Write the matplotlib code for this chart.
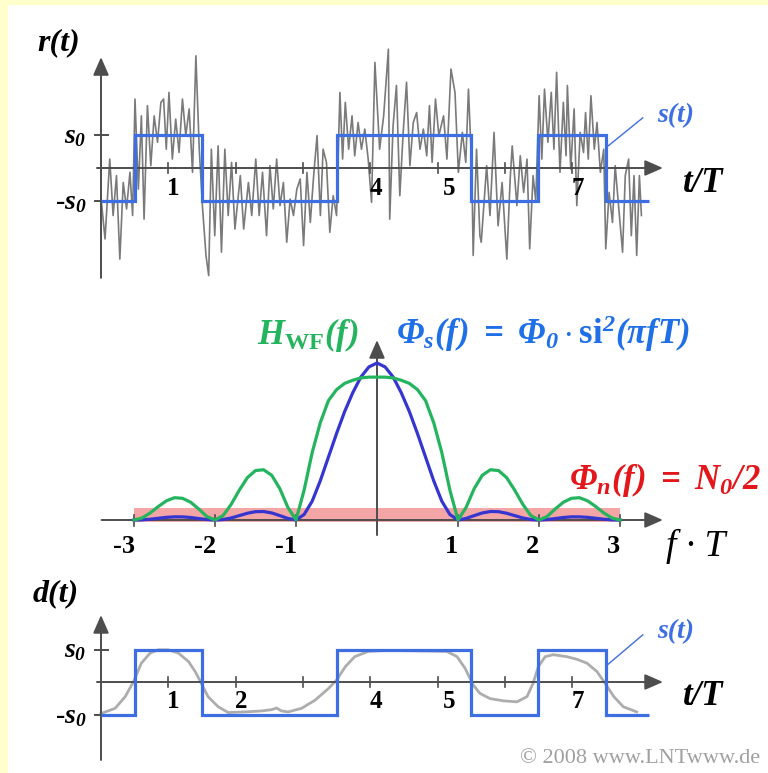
import numpy as np
import matplotlib
matplotlib.use("Agg")
from matplotlib import pyplot as plt
from matplotlib.patches import Rectangle

plt.rcParams["mathtext.fontset"] = "custom"
plt.rcParams["mathtext.it"] = "Liberation Serif:italic:bold"
plt.rcParams["mathtext.rm"] = "Liberation Serif:italic:bold"
plt.rcParams["mathtext.bf"] = "Liberation Serif:bold"
SERIF = "Liberation Serif"

# --- data ----------------------------------------------------------------
# transmitted rectangle signal s(t), levels in units of s0
s_edges = [0.0, 0.5, 1.5, 3.5, 5.5, 6.5, 7.5, 8.15]
s_levels = [-1, 1, -1, 1, -1, 1, -1]

# noisy received signal r(t)
r_t = [0.00, 0.06, 0.13, 0.18, 0.23, 0.28, 0.33, 0.38, 0.43, 0.47, 0.505, 0.555,
       0.60, 0.64, 0.69, 0.74, 0.79, 0.84, 0.89, 0.93, 0.97, 1.01, 1.06, 1.11,
       1.16, 1.21, 1.26, 1.31, 1.36, 1.41, 1.46, 1.51, 1.56, 1.60, 1.64, 1.69,
       1.74, 1.79, 1.84, 1.89, 1.94, 1.99, 2.07, 2.12, 2.19, 2.24, 2.30, 2.35,
       2.40, 2.46, 2.51, 2.56, 2.61, 2.66, 2.71, 2.76, 2.81, 2.86, 2.91, 2.96,
       3.01, 3.06, 3.11, 3.16, 3.21, 3.26, 3.30, 3.35, 3.40, 3.45, 3.50, 3.55,
       3.59, 3.63, 3.68, 3.73, 3.77, 3.82, 3.87, 3.92, 3.97, 4.02, 4.07, 4.14,
       4.20, 4.27, 4.29, 4.34, 4.39, 4.44, 4.49, 4.54, 4.59, 4.64, 4.69, 4.74,
       4.79, 4.84, 4.88, 4.92, 4.97, 5.02, 5.09, 5.14, 5.20, 5.26, 5.31, 5.37,
       5.42, 5.46, 5.51, 5.53, 5.58, 5.63, 5.65, 5.73, 5.78, 5.84, 5.90, 5.96,
       6.03, 6.08, 6.11, 6.18, 6.23, 6.28, 6.33, 6.37, 6.42, 6.46, 6.51, 6.55,
       6.59, 6.64, 6.69, 6.73, 6.77, 6.82, 6.87, 6.91, 6.93, 6.98, 7.03, 7.07,
       7.12, 7.17, 7.20, 7.24, 7.28, 7.33, 7.37, 7.42, 7.47, 7.50, 7.55, 7.60,
       7.64, 7.69, 7.75, 7.79, 7.84, 7.88, 7.92, 7.96, 8.00, 8.03]
r_vals = [-0.90, -2.15, 0.27, -1.44, -0.23, -2.76, -0.44, -1.24, -0.13, -1.44, 2.09, -0.64,
          1.58, -1.55, 1.89, 0.07, 1.58, 0.78, 1.99, 2.09, 0.57, 2.29, 0.27, 1.48,
          0.47, 2.09, 0.98, 1.79, -0.13, 3.40, 0.57, -1.24, -2.65, -3.26, 0.57, -2.05,
          0.67, -2.55, 0.57, -1.44, 0.17, -1.85, -0.23, -1.85, -0.44, -1.44, 0.27, -1.44,
          -0.13, -2.05, 0.07, -1.24, 0.27, -1.14, -0.44, -2.25, -0.94, -1.44, -0.64, -0.33,
          -2.35, -0.13, -1.65, -0.23, 0.98, -1.44, 0.57, 0.17, -1.95, -0.84, -1.44, 2.29,
          0.27, 1.99, 0.57, 1.58, 0.37, 1.38, 0.57, 1.18, 0.27, -1.04, 3.20, 0.57,
          1.58, 3.60, -1.55, 1.28, 2.50, -0.84, 1.08, 2.60, 0.07, 1.38, 1.68, 0.57,
          1.18, 0.37, 1.89, 0.17, 2.09, 0.98, 1.58, 0.27, 3.00, 2.29, -0.13, 1.08,
          0.17, 2.39, -0.03, -2.65, 0.57, -2.05, -2.25, 0.07, -1.44, 1.08, -1.75, -0.44,
          -2.76, -0.33, 0.67, -1.14, 0.37, -0.74, 0.27, -2.45, -0.23, -1.00, 2.19, 0.27,
          2.39, 0.78, 2.29, 0.57, 2.90, -0.13, 1.99, 0.37, 2.50, -0.03, 1.79, -1.14,
          1.08, 0.47, 1.68, 0.27, 2.19, 0.57, 1.38, -0.13, 0.57, -2.45, -0.74, -1.65,
          0.07, -1.14, -2.55, -0.23, 0.27, -2.05, -0.23, -2.65, -0.23, -1.44]

# spectra, f*T from -3 to 3 in steps of 0.1, normalised to the peak of Phi_s
f_grid = np.linspace(-3, 3, 61)
phi_s = [0.0, 0.001, 0.005, 0.011, 0.017, 0.020, 0.020, 0.016, 0.009, 0.003,
         0.0, 0.003, 0.013, 0.028, 0.043, 0.053, 0.054, 0.045, 0.028, 0.010,
         0.0, 0.035, 0.12, 0.25, 0.40, 0.55, 0.69, 0.81, 0.91, 0.975,
         1.0,
         0.975, 0.91, 0.81, 0.69, 0.55, 0.40, 0.25, 0.12, 0.035, 0.0,
         0.010, 0.028, 0.045, 0.054, 0.053, 0.043, 0.028, 0.013, 0.003, 0.0,
         0.003, 0.009, 0.016, 0.020, 0.020, 0.017, 0.011, 0.005, 0.001, 0.0]
h_wf = [0.0, 0.013, 0.045, 0.086, 0.122, 0.142, 0.138, 0.113, 0.07, 0.022,
        0.0, 0.028, 0.10, 0.19, 0.27, 0.315, 0.32, 0.285, 0.20, 0.08,
        0.0, 0.19, 0.43, 0.62, 0.76, 0.83, 0.87, 0.89, 0.905, 0.91,
        0.91,
        0.91, 0.905, 0.89, 0.87, 0.83, 0.76, 0.62, 0.43, 0.19, 0.0,
        0.08, 0.20, 0.285, 0.32, 0.315, 0.27, 0.19, 0.10, 0.028, 0.0,
        0.022, 0.07, 0.113, 0.138, 0.142, 0.122, 0.086, 0.045, 0.013, 0.0]
noise_f = [-3.0, 3.0]
noise_level = 0.075

# detected signal d(t) after the Wiener filter
d_t = [0.00, 0.21, 0.36, 0.48, 0.60, 0.73, 0.85, 1.00, 1.15, 1.30, 1.40, 1.49,
       1.59, 1.74, 1.89, 2.14, 2.39, 2.54, 2.61, 2.68, 2.78, 2.98, 3.18, 3.38,
       3.50, 3.63, 3.77, 3.97, 4.22, 4.64, 5.14, 5.29, 5.41, 5.53, 5.63, 5.78,
       5.98, 6.18, 6.33, 6.42, 6.50, 6.60, 6.72, 6.92, 7.07, 7.22, 7.37, 7.49,
       7.62, 7.76, 7.96]
d_vals = [-0.97, -0.81, -0.45, 0.00, 0.58, 0.89, 0.99, 0.99, 0.89, 0.63, 0.32, -0.04,
          -0.45, -0.76, -0.94, -0.92, -0.89, -0.85, -0.80, -0.89, -0.92, -0.81, -0.56, -0.20,
          0.06, 0.47, 0.78, 0.94, 0.97, 0.96, 0.94, 0.78, 0.42, -0.09, -0.35, -0.51,
          -0.58, -0.61, -0.45, -0.04, 0.48, 0.78, 0.84, 0.78, 0.70, 0.58, 0.32, -0.04,
          -0.45, -0.76, -0.92]

t_ticks = [1, 2, 3, 4, 5, 6, 7]
r_tick_labels = {1: "1", 4: "4", 5: "5", 7: "7"}
d_tick_labels = {1: "1", 2: "2", 4: "4", 5: "5", 7: "7"}
f_ticks = [-3, -2, -1, 1, 2, 3]

# --- styling --------------------------------------------------------------
W, H = 768, 773
AXIS = "#4d4d4d"
SQ_BLUE = "#3d6fe3"
CURVE_BLUE = "#3535d0"
LABEL_BLUE = "#1f6fe6"
GREEN = "#25b45e"
RED = "#e3161b"
SALMON = "#f4a6a6"
NOISE = "#7a7a7a"
D_GREY = "#adadad"

fig = plt.figure(figsize=(W / 100, H / 100), dpi=100, facecolor="#ffffcc")
fig.patches.append(Rectangle((8 / W, 0), 1 - 8 / W, 1 - 5 / H, transform=fig.transFigure,
                             facecolor="white", edgecolor="none", zorder=-10))


def panel(top, bottom, x0, sx, y0, sy):
    """Axes spanning pixel rows top..bottom, data origin at pixel (x0, y0)."""
    ax = fig.add_axes([0, 1 - bottom / H, 1, (bottom - top) / H])
    ax.set_xlim(-x0 / sx, (W - x0) / sx)
    ax.set_ylim((y0 - bottom) / sy, (y0 - top) / sy)
    ax.set_axis_off()
    return ax


def arrow_axes(ax, x_from, x_to, y_from, y_to):
    style = dict(arrowstyle="-|>,head_length=0.55,head_width=0.24", color=AXIS, lw=1.4,
                 shrinkA=0, shrinkB=0, mutation_scale=20)
    ax.annotate("", xy=(x_to, 0), xytext=(x_from, 0), arrowprops=style, zorder=3)
    ax.annotate("", xy=(0, y_to), xytext=(0, y_from), arrowprops=style, zorder=3)


def time_panel(ax, ylab, ylab_pos, tick_labels, lab_y, y_from, y_to, st_pos, st_line):
    arrow_axes(ax, -0.06, 8.35, y_from, y_to)
    for t in t_ticks:
        ax.plot([t, t], [-0.15, 0.15], color=AXIS, lw=1.2, zorder=3)
    for v in (1, -1):
        ax.plot([-0.09, 0.1], [v, v], color=AXIS, lw=1.4, zorder=3)
    ax.stairs(s_levels, s_edges, baseline=None, color=SQ_BLUE, lw=2.3, zorder=5)
    for t, lab in tick_labels.items():
        dx = 0.17 if t == 5 else 0.08
        ax.text(t + dx, lab_y, lab, fontsize=18, fontweight="bold", family=SERIF,
                ha="center", va="center")
    ax.text(*ylab_pos, ylab, fontsize=23, fontweight="bold", style="italic",
            family=SERIF, ha="center", va="center")
    ax.text(-0.22, 1.0, "$s_0$", fontsize=20, ha="right", va="center")
    ax.text(-0.22, -1.05, "-$s_0$", fontsize=20, fontweight="bold", family=SERIF,
            ha="right", va="center")
    ax.text(8.95, lab_y + 0.15, "t/T", fontsize=25, fontweight="bold", style="italic",
            family=SERIF, ha="center", va="center")
    ax.text(*st_pos, "s(t)", fontsize=20, fontweight="bold", style="italic",
            family=SERIF, color=SQ_BLUE, ha="center", va="center")
    ax.plot(st_line[0], st_line[1], color=SQ_BLUE, lw=1.0)


# --- top: received signal -------------------------------------------------
ax1 = panel(0, 290, 101, 67.3, 168, 33)
ax1.plot(r_t, r_vals, color=NOISE, lw=1.2, zorder=2)
time_panel(ax1, "r(t)", (-0.63, 3.79), r_tick_labels, -0.62, -3.33, 3.36,
           (8.54, 1.6), ([8.05, 7.53], [1.52, 0.66]))

# --- middle: spectra ------------------------------------------------------
ax2 = panel(290, 565, 377, 81, 520, 157)
ax2.fill_between(noise_f, -0.01, noise_level, color=SALMON, lw=0, zorder=1)
arrow_axes(ax2, -3.4, 3.53, -0.096, 1.146)
for f in f_ticks:
    ax2.plot([f, f], [-0.04, 0.035], color=AXIS, lw=1.2, zorder=3)
ax2.plot(f_grid, phi_s, color=CURVE_BLUE, lw=2.3, zorder=5)
ax2.plot(f_grid, h_wf, color=GREEN, lw=2.3, zorder=6)
for f in f_ticks:
    ax2.text(f - 0.12 if f < 0 else f - 0.08, -0.166, str(f), fontsize=19,
             fontweight="bold", family=SERIF, ha="center", va="center")
ax2.text(3.93, -0.166, "f · T", fontsize=27, style="italic", family=SERIF,
         ha="center", va="center")
ax2.text(-0.85, 1.18, r"$H_{\mathbf{WF}}(f)$", fontsize=25, color=GREEN,
         ha="center", va="center")
ax2.text(2.05, 1.19, r"$\Phi_s(f)\ =\ \Phi_0\cdot\mathbf{si}^2(\pi fT)$", fontsize=25,
         color=LABEL_BLUE, ha="center", va="center")
ax2.text(3.56, 0.255, r"$\Phi_n(f)\ =\ N_0/2$", fontsize=25, color=RED,
         ha="center", va="center")

# --- bottom: detected signal ----------------------------------------------
ax3 = panel(565, 773, 101, 67.3, 682, 32.5)
ax3.plot(d_t, d_vals, color=D_GREY, lw=2.0, zorder=2)
time_panel(ax3, "d(t)", (-0.67, 2.71), d_tick_labels, -0.6, -2.4, 2.06,
           (8.54, 1.54), ([8.05, 7.52], [1.45, 0.52]))
ax3.text(8.01, -2.34, "© 2008 www.LNTwww.de", fontsize=16, color="#a0a0a0",
         family=SERIF, ha="center", va="center")

fig.savefig("out.png", dpi=100, facecolor=fig.get_facecolor())
